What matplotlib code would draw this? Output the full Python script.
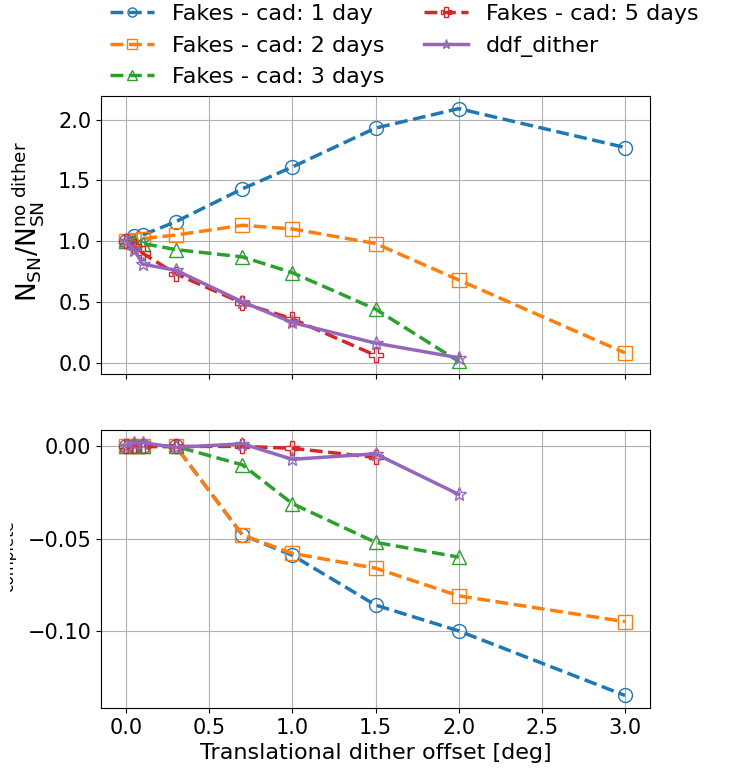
import numpy as np
import matplotlib.pyplot as plt
from matplotlib.transforms import Bbox, TransformedBbox

# dither offsets (deg)
x_full = [0.0, 0.05, 0.1, 0.3, 0.7, 1.0, 1.5, 2.0, 3.0]

# top panel: N_SN / N_SN(no dither)
nsn_cad1 = [1.0, 1.04, 1.05, 1.16, 1.43, 1.61, 1.93, 2.09, 1.77]
nsn_cad2 = [1.0, 1.01, 1.02, 1.05, 1.13, 1.10, 0.98, 0.68, 0.08]
nsn_cad3 = [1.0, 0.99, 0.98, 0.93, 0.87, 0.74, 0.44, 0.01]
nsn_cad5 = [1.0, 0.96, 0.90, 0.73, 0.49, 0.36, 0.06]
nsn_ddf = [1.0, 0.93, 0.81, 0.76, 0.50, 0.33, 0.16, 0.04]

# bottom panel: delta z_complete
dz_cad1 = [0.0, 0.0, 0.0, 0.0, -0.048, -0.059, -0.086, -0.100, -0.135]
dz_cad2 = [0.0, 0.0, 0.0, 0.0, -0.048, -0.058, -0.066, -0.081, -0.095]
dz_cad3 = [0.0, 0.0, 0.0, 0.0, -0.010, -0.031, -0.052, -0.060]
dz_cad5 = [0.0, 0.0, 0.0, 0.0, 0.0, -0.001, -0.006]
dz_ddf = [0.0, 0.002, 0.002, -0.0005, 0.0014, -0.007, -0.004, -0.026]

labels = ["Fakes - cad: 1 day", "Fakes - cad: 2 days", "Fakes - cad: 3 days",
          "Fakes - cad: 5 days", "ddf_dither"]
colors = ["#1f77b4", "#ff7f0e", "#2ca02c", "#d62728", "#9467bd"]
markers = ["o", "s", "^", "P", "*"]
styles = ["--", "--", "--", "--", "-"]

top_series = [nsn_cad1, nsn_cad2, nsn_cad3, nsn_cad5, nsn_ddf]
bot_series = [dz_cad1, dz_cad2, dz_cad3, dz_cad5, dz_ddf]

fig = plt.figure(figsize=(7.33, 7.68), dpi=100)
ax1 = fig.add_axes([0.1378, 0.513, 0.749, 0.362])
ax2 = fig.add_axes([0.1378, 0.078, 0.749, 0.362], sharex=ax1)

for ax, series in [(ax1, top_series), (ax2, bot_series)]:
    for y, lab, col, mk, ls in zip(series, labels, colors, markers, styles):
        ax.plot(x_full[:len(y)], y, ls=ls, color=col, marker=mk, mfc="none",
                ms=10, lw=2.5, label=lab)
    ax.grid(True)
    ax.tick_params(labelsize=15)

ax1.tick_params(labelbottom=False)
ax1.set_yticks([0.0, 0.5, 1.0, 1.5, 2.0])
ax2.set_xticks([0.0, 0.5, 1.0, 1.5, 2.0, 2.5, 3.0])
ax1.set_ylabel(r"$\mathrm{N_{SN}/N_{SN}^{no\ dither}}$", fontsize=19)
ax1.yaxis.set_label_coords(-0.1, 0.55)
ax2.set_xlabel("Translational dither offset [deg]", fontsize=16)

# label on the left edge, cut off like in the original
t = fig.text(16 / 733, 1 - 556 / 768, "complete", rotation=90, fontsize=11,
             ha="right", va="center")
t.set_clip_box(TransformedBbox(Bbox.from_extents(10 / 733, 0, 1, 1), fig.transFigure))
t.set_clip_on(True)

ax1.legend(loc="lower left", bbox_to_anchor=(0.0, 1.0), ncol=2, frameon=False,
           fontsize=16, markerscale=0.65, borderaxespad=0.0, labelspacing=0.52,
           columnspacing=1.75)

fig.savefig("out.png", dpi=100)
